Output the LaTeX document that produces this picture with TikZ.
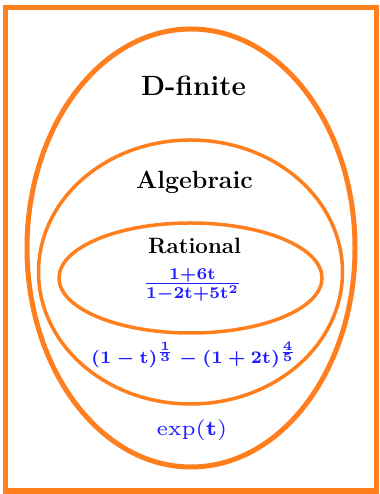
\documentclass[tikz,border=0pt]{standalone}
\usepackage{amsmath}
\usepackage{graphicx}
\definecolor{ora}{RGB}{255,127,30}
\definecolor{blu}{RGB}{30,30,255}
\protected\def\ratexpr{\scalebox{2.38}{\fontsize{10}{12}\selectfont\boldmath$\frac{\mathbf{1+6t}}{\mathbf{1-2t+5t^{2}}}$}}
\protected\def\algexpr{\scalebox{2.53}{\fontsize{7}{8}\selectfont\boldmath$(\mathbf{1-t})^{\frac{1}{3}}-(\mathbf{1+2t})^{\frac{4}{5}}$}}
\protected\def\expexpr{\scalebox{3.5}{\fontsize{6}{7}\selectfont$\mathrm{exp}\mathbf{(t)}$}}
\begin{document}
\begin{tikzpicture}[x=1bp,y=1bp,
  setline/.style={draw=ora},
  lbl/.style={inner sep=0pt,anchor=center},
  mathlbl/.style={inner sep=0pt,anchor=center,text=blu}]
\useasboundingbox (0,0) rectangle (379,494);
\fill[white] (0,0) rectangle (379,494);
\draw[setline,line width=5bp] (5,3) rectangle (376,486.5);
\draw[setline,line width=5bp] (191,246) ellipse [x radius=164, y radius=219];
\draw[setline,line width=3.5bp] (190.5,222) ellipse [x radius=152, y radius=132];
\draw[setline,line width=3.5bp] (190.5,216) ellipse [x radius=131.5, y radius=55];
\node[lbl] (dfin) at (193.5,408) {\fontsize{28}{33}\selectfont\bfseries D-finite};
\node[lbl] (alg) at (194.5,312) {\fontsize{25}{30}\selectfont\bfseries Algebraic};
\node[lbl] (rat) at (194.5,248) {\fontsize{22.3}{27}\selectfont\bfseries Rational};
\node[mathlbl] (ratf) at (192.5,209) {\ratexpr};
\node[mathlbl] (algf) at (194,139) {\algexpr};
\node[mathlbl] (expf) at (192,64) {\expexpr};
\end{tikzpicture}
\end{document}
